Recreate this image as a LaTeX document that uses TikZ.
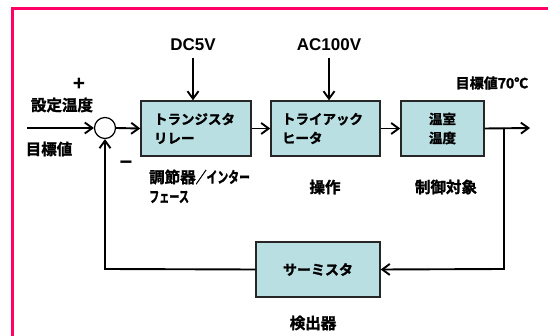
\documentclass[tikz,border=0pt]{standalone}
\usepackage{fontspec}
\setmainfont{Liberation Sans}
\newfontfamily\jp{Noto Sans CJK JP}[BoldFont={Noto Sans CJK JP Bold}, BoldFeatures={FakeBold=1.6}]
\usetikzlibrary{arrows.meta}
\definecolor{frame}{HTML}{FF0066}
\definecolor{boxfill}{HTML}{BADFE3}
\tikzset{
  blk/.style={draw=black!85, line width=1.4pt, fill=boxfill, minimum height=55pt, inner sep=0pt,
    font=\jp\bfseries\fontsize{13.5}{19}\selectfont},
  lbl/.style={font=\jp\bfseries\fontsize{15.5}{18}\selectfont, inner sep=0pt},
  latin/.style={font=\bfseries\fontsize{17}{20}\selectfont, inner sep=0pt},
  conn/.style={line width=1.9pt, -{Straight Barb[length=7.5pt,width=11pt]}},
  sumc/.style={circle, draw, line width=1.2pt, fill=white, minimum size=21pt, inner sep=0pt}
}
\begin{document}
\begin{tikzpicture}[x=1pt,y=-1pt]
\useasboundingbox (0,0) rectangle (548,336);
\fill[white] (0,0) rectangle (548,336);
\draw[frame, line width=3pt] (12.5,336) -- (12.5,8.5) -- (548,8.5);

\node[blk, minimum width=110pt, text width=84pt, align=left] (relay) at (196,128.5) {トランジスタ\\リレー};
\node[blk, minimum width=109pt, text width=87pt, align=left] (heater) at (325.5,128.5) {トライアック\\ヒータ};
\node[blk, minimum width=83pt, align=center] (room) at (442.5,128.5) {温室\\温度};
\node[blk, minimum width=124pt, align=center, font=\jp\bfseries\fontsize{14}{19}\selectfont] (sensor) at (318,269.5) {サーミスタ};
\node[sumc] (sum) at (105,128) {};

\node[latin] (dc) at (193,45) {DC5V};
\node[latin] (ac) at (329,45) {AC100V};
\coordinate (dcs) at (193,58);
\coordinate (acs) at (329,58);
\coordinate (in) at (27,128);
\coordinate (out) at (530,128);
\coordinate (br) at (504,128);
\coordinate (brd) at (504,269);
\coordinate (fbl) at (105,269);

\node[font=\bfseries\fontsize{21}{22}\selectfont, inner sep=0pt] (plus) at (79,84) {+};
\node[font=\bfseries\fontsize{22}{22}\selectfont, inner sep=0pt] (minus) at (126,165) {−};
\node[lbl] (set) at (62,105) {設定温度};
\node[lbl] (target) at (49,149) {目標値};
\node[lbl, anchor=west] (ctl) at (149,177) {調節器\scalebox{0.7}[1]{／インター}};
\node[lbl, anchor=west] (ctl2) at (149,197) {\scalebox{0.65}[1]{フェース}};
\node[lbl] (op) at (325,187) {操作};
\node[lbl] (plant) at (446,187) {制御対象};
\node[lbl, font=\jp\bfseries\fontsize{14}{18}\selectfont] (goal) at (492,83) {目標値70℃};
\node[lbl] (det) at (313,323) {検出器};

\draw[conn] (in) -- (sum.west);
\draw[conn] (sum.east) -- (relay.west);
\draw[conn] (relay.east) -- (heater.west);
\draw[conn] (heater.east) -- (room.west);
\draw[conn] (room.east) -- (out);
\draw[conn] (dcs) -- (dcs |- relay.north);
\draw[conn] (acs) -- (acs |- heater.north);
\draw[conn] (br) -- (brd) -- (sensor.east);
\draw[conn] (sensor.west) -- (fbl) -- (sum.south);
\end{tikzpicture}
\end{document}
